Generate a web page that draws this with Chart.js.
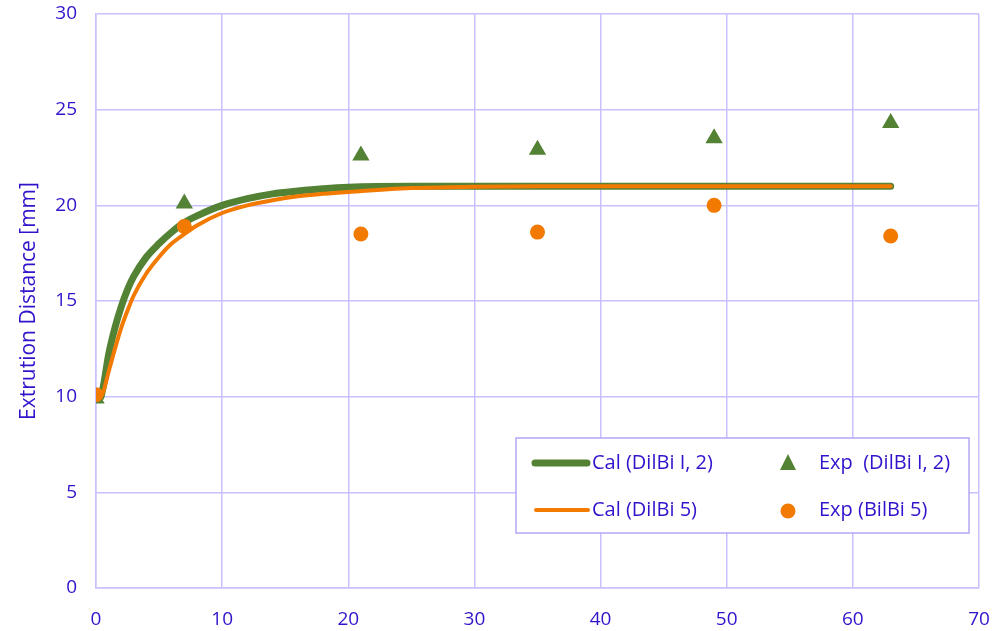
<!DOCTYPE html>
<html>
<head>
<meta charset="utf-8">
<script src="https://cdn.jsdelivr.net/npm/chart.js@4.4.1/dist/chart.umd.min.js"></script>
<style>
  html, body { margin: 0; padding: 0; background: #ffffff; }
  #wrap { width: 997px; height: 631px; position: relative; }
</style>
</head>
<body>
<div id="wrap"><canvas id="c" width="997" height="631"></canvas></div>
<script>
// Extrusion distance vs. time: calculated curves and experimental points
const calX = [0.4, 0.6, 1, 1.5, 2, 2.5, 3, 4, 5, 6, 7, 8, 10, 12, 14, 16, 18, 20, 25, 30, 35, 40, 45, 50, 55, 60, 63];
const calDilBi12 = [10.0, 10.6, 12.2, 13.6, 14.7, 15.6, 16.3, 17.3, 18.0, 18.6, 19.1, 19.45, 20.0, 20.35, 20.6, 20.75, 20.87, 20.95, 21.0, 21.0, 21.0, 21.0, 21.0, 21.0, 21.0, 21.0, 21.0];
const calDilBi5 = [10.0, 10.3, 11.3, 12.5, 13.6, 14.5, 15.3, 16.45, 17.3, 18.0, 18.5, 18.95, 19.6, 20.0, 20.27, 20.47, 20.6, 20.7, 20.9, 20.97, 21.0, 21.0, 21.0, 21.0, 21.0, 21.0, 21.0];

const expX = [0, 7, 21, 35, 49, 63];
const expDilBi12 = [9.9, 20.1, 22.6, 22.9, 23.5, 24.3];
const expBilBi5 = [10.1, 18.9, 18.5, 18.6, 20.0, 18.4];

const xTicks = [0, 10, 20, 30, 40, 50, 60, 70];
const yTicks = [0, 5, 10, 15, 20, 25, 30];

const seriesLabels = ['Cal (DilBi I, 2)', 'Exp  (DilBi I, 2)', 'Cal (DilBi 5)', 'Exp (BilBi 5)'];

const GREEN = '#548235';
const ORANGE = '#F27A00';
const TEXT = '#3312CC';
const GRID = '#C9C1FF';
const FONT = '"Open Sans", "Noto Sans", sans-serif';

const pairs = (xs, ys) => xs.map((x, i) => ({ x: x, y: ys[i] }));

// Two-column legend drawn inside a framed box in the lower right of the plot
const boxLegend = {
  id: 'boxLegend',
  afterDraw(chart) {
    const ctx = chart.ctx;
    const L = 516, T = 438, R = 969, B = 533;
    ctx.save();
    ctx.fillStyle = '#ffffff';
    ctx.fillRect(L, T, R - L, B - T);
    ctx.strokeStyle = '#B3A8F7';
    ctx.lineWidth = 1.5;
    ctx.strokeRect(L, T, R - L, B - T);

    ctx.font = '20px ' + FONT;
    ctx.fillStyle = TEXT;
    ctx.textBaseline = 'middle';
    ctx.textAlign = 'left';
    const r1 = 463, r2 = 510;

    ctx.lineCap = 'round';
    ctx.strokeStyle = GREEN; ctx.lineWidth = 7;
    ctx.beginPath(); ctx.moveTo(535, r1); ctx.lineTo(587, r1); ctx.stroke();
    ctx.strokeStyle = ORANGE; ctx.lineWidth = 4;
    ctx.beginPath(); ctx.moveTo(536, r2); ctx.lineTo(588, r2); ctx.stroke();

    ctx.fillStyle = GREEN;
    ctx.beginPath();
    ctx.moveTo(788, r1 - 9); ctx.lineTo(796, r1 + 7); ctx.lineTo(780, r1 + 7); ctx.closePath();
    ctx.fill();
    ctx.fillStyle = ORANGE;
    ctx.beginPath(); ctx.arc(788, r2 + 1, 7.5, 0, Math.PI * 2); ctx.fill();

    ctx.fillStyle = TEXT;
    ctx.fillText(seriesLabels[0], 592, r1);
    ctx.fillText(seriesLabels[1], 819, r1);
    ctx.fillText(seriesLabels[2], 592, r2);
    ctx.fillText(seriesLabels[3], 819, r2);
    ctx.restore();
  }
};

new Chart(document.getElementById('c'), {
  type: 'scatter',
  data: {
    datasets: [
      {
        label: seriesLabels[3], data: pairs(expX, expBilBi5),
        pointStyle: 'circle', pointRadius: 7.5, pointHoverRadius: 7.5,
        backgroundColor: ORANGE, borderColor: ORANGE, borderWidth: 0, showLine: false, order: 0
      },
      {
        label: seriesLabels[1], data: pairs(expX, expDilBi12),
        pointStyle: 'triangle', pointRadius: 10, pointHoverRadius: 10,
        backgroundColor: GREEN, borderColor: GREEN, borderWidth: 0, showLine: false, order: 1
      },
      {
        label: seriesLabels[2], data: pairs(calX, calDilBi5),
        showLine: true, borderColor: ORANGE, borderWidth: 4, pointRadius: 0,
        cubicInterpolationMode: 'monotone', borderCapStyle: 'round', order: 2
      },
      {
        label: seriesLabels[0], data: pairs(calX, calDilBi12),
        showLine: true, borderColor: GREEN, borderWidth: 7, pointRadius: 0,
        cubicInterpolationMode: 'monotone', borderCapStyle: 'round', order: 3
      }
    ]
  },
  options: {
    responsive: false,
    animation: false,
    layout: { padding: { top: 14, right: 18, left: 0, bottom: 0 } },
    plugins: { legend: { display: false }, tooltip: { enabled: false } },
    scales: {
      x: {
        type: 'linear', min: 0, max: 70,
        afterBuildTicks: s => { s.ticks = xTicks.map(v => ({ value: v })); },
        afterFit: s => { s.height = 43; s.paddingLeft = 0; s.paddingRight = 0; },
        grid: { color: GRID, lineWidth: 1.5, drawTicks: false },
        border: { color: GRID, width: 1.5 },
        ticks: { color: TEXT, font: { family: FONT, size: 19 }, padding: 20 }
      },
      y: {
        type: 'linear', min: 0, max: 30,
        afterBuildTicks: s => { s.ticks = yTicks.map(v => ({ value: v })); },
        afterFit: s => { s.width = 96; s.paddingTop = 0; s.paddingBottom = 0; },
        grid: { color: GRID, lineWidth: 1.5, drawTicks: false },
        border: { color: GRID, width: 1.5 },
        ticks: { color: TEXT, font: { family: FONT, size: 19 }, padding: 19 },
        title: {
          display: true, text: 'Extrution Distance [mm]', color: TEXT,
          font: { family: FONT, size: 21 }, padding: { top: 16 }
        }
      }
    }
  },
  plugins: [boxLegend]
});
</script>
</body>
</html>
